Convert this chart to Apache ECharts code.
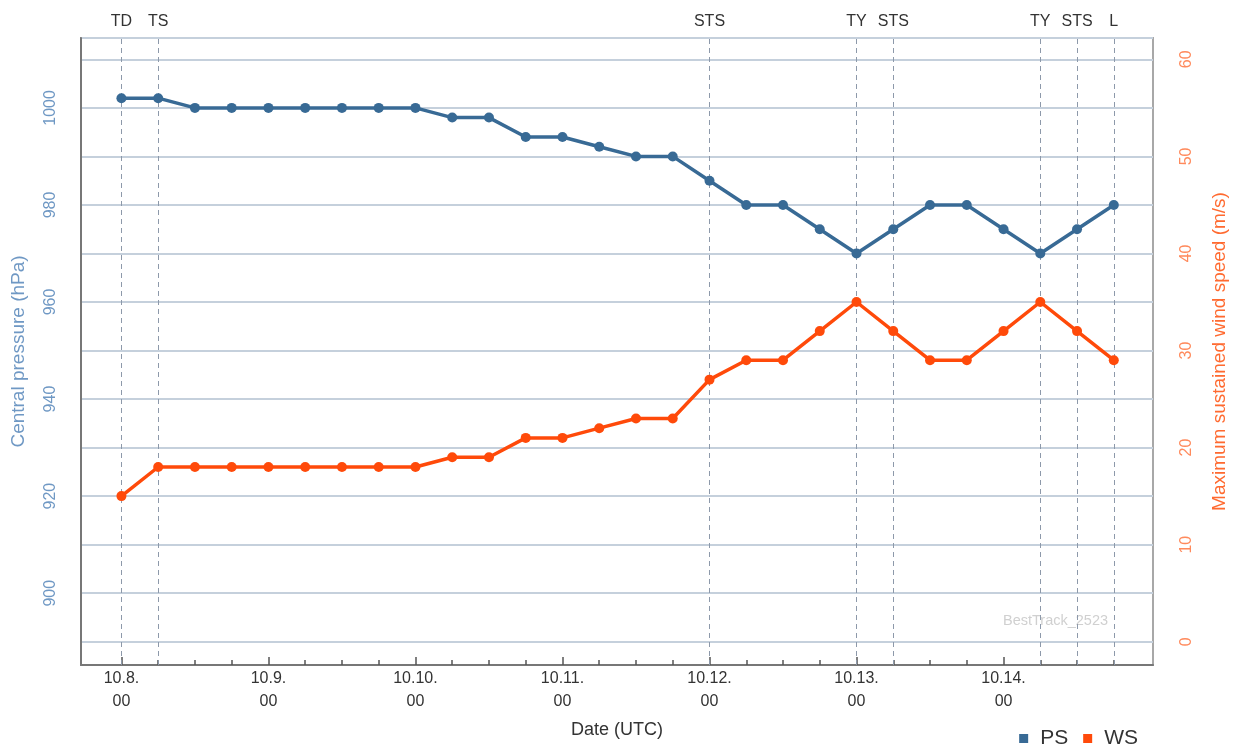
<!DOCTYPE html>
<html>
<head>
<meta charset="utf-8">
<script src="https://cdn.jsdelivr.net/npm/echarts@6/dist/echarts.min.js"></script>
<style>html,body{margin:0;padding:0;background:#fff}#c{width:1236px;height:748px}</style>
</head>
<body>
<div id="c"></div>
<script>
// hours since 10.8 00 UTC
const hours = [0,6,12,18,24,30,36,42,48,54,60,66,72,78,84,90,96,102,108,114,120,126,132,138,144,150,156,162];
const pressure = [1002,1002,1000,1000,1000,1000,1000,1000,1000,998,998,994,994,992,990,990,985,980,980,975,970,975,980,980,975,970,975,980];
const wind = [15,18,18,18,18,18,18,18,18,19,19,21,21,22,23,23,27,29,29,32,35,32,29,29,32,35,32,29];
const stageHours = [0,6,96,120,126,150,156,162];
const stageLabels = ['TD','TS','STS','TY','STS','TY','STS','L'];
const dayLabels = ['10.8.','10.9.','10.10.','10.11.','10.12.','10.13.','10.14.'];
const dayHours = [0,24,48,72,96,120,144];
const minorHours = hours.filter(h => h % 24 !== 0);

const font = 'Liberation Sans, Arial, sans-serif';
const chart = echarts.init(document.getElementById('c'), null, {renderer:'canvas'});
const xMin = -6.6, xMax = 168.4;
chart.setOption({
  animation:false,
  textStyle:{fontFamily:font},
  grid:{left:81,right:83,top:38,bottom:83,outerBoundsMode:'none',containLabel:false,
        show:true,borderColor:'#a8a8a8',borderWidth:2,backgroundColor:'#fff'},
  legend:{
    right:93, bottom:-6, icon:'rect', itemWidth:9, itemHeight:9, itemGap:15,
    textStyle:{fontSize:21,color:'#333',fontFamily:font,padding:[0,0,0,7]},
    data:['PS','WS']
  },
  xAxis:[{
    type:'value', min:xMin, max:xMax,
    name:'Date (UTC)', nameLocation:'middle', nameGap:56,
    nameTextStyle:{fontSize:18,color:'#333',fontFamily:font},
    axisLine:{show:true,onZero:false,lineStyle:{color:'#777',width:2}},
    axisTick:{show:true,inside:true,length:8,customValues:dayHours,lineStyle:{color:'#555',width:1.5}},
    splitLine:{show:false},
    axisLabel:{
      fontSize:16, color:'#333', margin:2, lineHeight:23, fontFamily:font,
      customValues:dayHours,
      formatter:function(v){
        const i = dayHours.indexOf(Math.round(v));
        return i >= 0 ? dayLabels[i] + '\n00' : '';
      }
    }
  },{
    type:'value', min:xMin, max:xMax, position:'bottom',
    axisLine:{show:false,onZero:false},
    axisTick:{show:true,inside:true,length:5,customValues:minorHours,lineStyle:{color:'#555',width:1.5}},
    axisLabel:{show:false},
    splitLine:{show:false}
  }],
  yAxis:[{
    type:'value', min:885.2, max:1014.4, splitNumber:6, position:'left',
    name:'Central pressure (hPa)', nameLocation:'middle', nameGap:53,
    nameTextStyle:{fontSize:19,color:'#6f98c4',fontFamily:font},
    axisLine:{show:true,onZero:false,lineStyle:{color:'#777',width:2}},
    axisTick:{show:false},
    axisLabel:{rotate:90,fontSize:16,color:'#6f98c4',margin:22,showMinLabel:false,showMaxLabel:false,fontFamily:font,
      formatter:function(v){return String(v);}},
    splitLine:{show:true,lineStyle:{color:'#c5d0dc',width:2}}
  },{
    type:'value', min:-2.4, max:62.2, splitNumber:6, position:'right',
    name:'Maximum sustained wind speed (m/s)', nameLocation:'middle', nameGap:57,
    nameTextStyle:{fontSize:19,color:'#ff6a30',fontFamily:font},
    axisLine:{show:false,onZero:false},
    axisTick:{show:false},
    axisLabel:{rotate:90,fontSize:16,color:'#ff8a5c',margin:26,showMinLabel:false,showMaxLabel:false,fontFamily:font,
      formatter:function(v){return String(v);}},
    splitLine:{show:true,lineStyle:{color:'#c5d0dc',width:2}}
  }],
  graphic:[{
    type:'text', left:1003, top:613, silent:true,
    style:{text:'BestTrack_2523', fontSize:14.5, fill:'#d0d0d0', fontFamily:font}
  }],
  series:[{
    name:'PS', type:'line', xAxisIndex:0, yAxisIndex:0,
    data: hours.map((h,i)=>[h,pressure[i]]),
    color:'#386a95',
    symbol:'circle', symbolSize:10,
    lineStyle:{width:3.5,color:'#386a95'},
    itemStyle:{color:'#386a95'},
    z:5,
    markLine:{
      silent:true, symbol:['none','none'], z:1,
      lineStyle:{type:[5,4],color:'#8d99aa',width:1},
      label:{show:true,position:'end',formatter:'{b}',fontSize:16,color:'#333',distance:8,fontFamily:font},
      data: stageHours.map((h,i)=>({xAxis:h,name:stageLabels[i]}))
    }
  },{
    name:'WS', type:'line', xAxisIndex:0, yAxisIndex:1,
    data: hours.map((h,i)=>[h,wind[i]]),
    color:'#ff4a0a',
    symbol:'circle', symbolSize:10,
    lineStyle:{width:3.5,color:'#ff4a0a'},
    itemStyle:{color:'#ff4a0a'},
    z:5
  }]
});
</script>
</body>
</html>
